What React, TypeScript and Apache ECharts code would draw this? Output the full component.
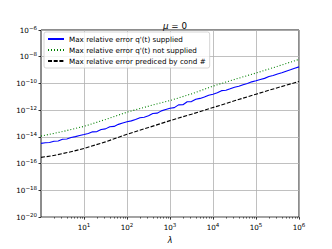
import React, { useEffect, useRef } from "react";
import * as echarts from "echarts";

// lambda sample points
const lambdaFine = [
  1, 1.26, 1.58, 2, 2.51, 3.16, 3.98, 5.01, 6.31, 7.94,
  10, 12.6, 15.8, 20, 25.1, 31.6, 39.8, 50.1, 63.1, 79.4,
  100, 126, 158, 200, 251, 316, 398, 501, 631, 794,
  1000, 1260, 1580, 2000, 2510, 3160, 3980, 5010, 6310, 7940,
  1e4, 1.26e4, 1.58e4, 2e4, 2.51e4, 3.16e4, 3.98e4, 5.01e4, 6.31e4, 7.94e4,
  1e5, 1.26e5, 1.58e5, 2e5, 2.51e5, 3.16e5, 3.98e5, 5.01e5, 6.31e5, 7.94e5,
  1e6,
];
const errSupplied = [
  3.31e-15, 3.63e-15, 3.8e-15, 4.68e-15, 4.9e-15, 6.61e-15, 7.0e-15, 8.91e-15, 1.05e-14, 1.26e-14,
  1.51e-14, 1.82e-14, 2.4e-14, 2.5e-14, 3.6e-14, 4.0e-14, 5.8e-14, 6.1e-14, 8.71e-14, 1.1e-13,
  1.38e-13, 1.58e-13, 2.0e-13, 2.7e-13, 3.0e-13, 3.8e-13, 5.62e-13, 6.0e-13, 8.9e-13, 1.12e-12,
  1.38e-12, 1.55e-12, 2.5e-12, 2.55e-12, 4.3e-12, 4.4e-12, 6.6e-12, 7.6e-12, 9.55e-12, 1.32e-11,
  1.58e-11, 2.0e-11, 2.9e-11, 3.1e-11, 3.98e-11, 5.25e-11, 6.1e-11, 8.1e-11, 1.0e-10, 1.32e-10,
  1.58e-10, 2.0e-10, 2.4e-10, 3.31e-10, 3.9e-10, 5.1e-10, 6.31e-10, 8.32e-10, 1.05e-9, 1.38e-9,
  1.74e-9,
];

const lambdaNotSupplied = [1, 3.16, 10, 31.6, 100, 316, 1000, 3160, 1e4, 3.16e4, 1e5, 3.16e5, 1e6];
const errNotSupplied = [
  1.15e-14, 2.51e-14, 6.17e-14, 2.0e-13, 7.08e-13, 2.0e-12, 5.25e-12, 1.66e-11, 6.31e-11, 2.0e-10,
  6.03e-10, 1.91e-9, 6.31e-9,
];

const lambdaCond = [1, 1.78, 3.16, 5.62, 10, 31.6, 100, 316, 1000, 3160, 1e4, 3.16e4, 1e5, 3.16e5, 1e6];
const errCond = [
  2.95e-16, 3.8e-16, 5.62e-16, 8.51e-16, 1.38e-15, 4.27e-15, 1.58e-14, 5.01e-14, 1.66e-13, 5.01e-13,
  1.58e-12, 5.01e-12, 1.58e-11, 4.79e-11, 1.41e-10,
];

const seriesNames = [
  "Max relative error q'(t) supplied",
  "Max relative error q'(t) not supplied",
  "Max relative error prediced by cond #",
];

const yTickValues = [1e-20, 1e-18, 1e-16, 1e-14, 1e-12, 1e-10, 1e-8, 1e-6];
const xTickValues = [10, 100, 1000, 1e4, 1e5, 1e6];
const xMin = 1;
const xMax = 1e6;

const xMinorTicks: number[] = [];
for (let d = 1; d < xMax; d *= 10) {
  for (let m = 2; m <= 9; m++) xMinorTicks.push(m * d);
}

const supLabel = (v: number) => {
  const e = Math.round(Math.log10(v));
  const s = e < 0 ? "\u2212" + String(-e) : String(e);
  return "{b|10}{s|" + s + "}";
};

const FONT = "DejaVu Sans";
const rich = {
  b: { fontSize: 7.2, fontFamily: FONT, color: "#000", lineHeight: 11 },
  s: { fontSize: 5.5, fontFamily: FONT, color: "#000", lineHeight: 6, verticalAlign: "top" },
};

export default function App() {
  const ref = useRef<HTMLDivElement>(null);
  useEffect(() => {
    if (!ref.current) return;
    const chart = echarts.init(ref.current, undefined, { renderer: "svg" });
    const pair = (xs: number[], ys: number[]) => xs.map((x, i) => [x, ys[i]]);
    chart.setOption({
      animation: false,
      backgroundColor: "#fff",
      textStyle: { fontFamily: FONT },
      title: {
        text: "{i|\u03bc}{n| = 0}",
        left: 170,
        top: 16,
        textAlign: "center",
        textStyle: {
          fontWeight: "normal",
          rich: {
            i: { fontSize: 8.7, fontStyle: "italic", fontWeight: "normal", fontFamily: FONT, color: "#000" },
            n: { fontSize: 8.7, fontWeight: "normal", fontFamily: FONT, color: "#000" },
          },
        },
      },
      legend: {
        orient: "vertical",
        left: 44,
        top: 32,
        padding: [3, 4, 3, 3],
        itemWidth: 16,
        itemHeight: 8,
        itemGap: 3,
        itemStyle: { opacity: 0 },
        backgroundColor: "rgba(255,255,255,0.8)",
        borderColor: "#cccccc",
        borderWidth: 0.8,
        borderRadius: 2,
        textStyle: { fontSize: 7.2, fontFamily: FONT, color: "#000", lineHeight: 8 },
        data: seriesNames,
      },
      grid: {
        left: 41,
        right: 33,
        top: 30,
        bottom: 28,
        show: true,
        borderColor: "#000",
        borderWidth: 0.9,
        backgroundColor: "transparent",
      },
      xAxis: [
        {
          type: "log",
          min: xMin,
          max: xMax,
          name: "\u03bb",
          nameLocation: "middle",
          nameGap: 15,
          nameTextStyle: { fontSize: 8, fontStyle: "italic", fontFamily: FONT, color: "#000" },
          axisLine: { show: false },
          axisTick: {
            show: true,
            length: 2.5,
            customValues: xTickValues,
            lineStyle: { color: "#000", width: 0.8 },
          },
          axisLabel: {
            customValues: xTickValues,
            margin: 5,
            formatter: (v: number) => supLabel(v),
            rich,
          },
          splitLine: { show: true, lineStyle: { color: "#b0b0b0", width: 0.8 } },
        },
        {
          type: "log",
          min: xMin,
          max: xMax,
          position: "bottom",
          axisLine: { show: false },
          axisTick: {
            show: true,
            length: 1.5,
            customValues: xMinorTicks,
            lineStyle: { color: "#000", width: 0.6 },
          },
          axisLabel: { show: false },
          splitLine: { show: false },
        },
      ],
      yAxis: {
        type: "log",
        min: yTickValues[0],
        max: yTickValues[yTickValues.length - 1],
        axisLine: { show: false },
        axisTick: {
          show: true,
          length: 2.5,
          customValues: yTickValues,
          lineStyle: { color: "#000", width: 0.8 },
        },
        axisLabel: {
          customValues: yTickValues,
          margin: 4,
          formatter: (v: number) => supLabel(v),
          rich,
        },
        splitLine: { show: true, lineStyle: { color: "#b0b0b0", width: 0.8 } },
      },
      series: [
        {
          name: seriesNames[0],
          type: "line",
          xAxisIndex: 0,
          data: pair(lambdaFine, errSupplied),
          showSymbol: false,
          symbol: "none",
          lineStyle: { color: "#0000ff", width: 1.1 },
          itemStyle: { color: "#0000ff" },
          z: 4,
        },
        {
          name: seriesNames[1],
          type: "line",
          xAxisIndex: 0,
          data: pair(lambdaNotSupplied, errNotSupplied),
          showSymbol: false,
          symbol: "none",
          lineStyle: { color: "#008000", width: 1.1, type: [1, 2] },
          itemStyle: { color: "#008000" },
          z: 3,
        },
        {
          name: seriesNames[2],
          type: "line",
          xAxisIndex: 0,
          data: pair(lambdaCond, errCond),
          showSymbol: false,
          symbol: "none",
          lineStyle: { color: "#000000", width: 1.1, type: [4, 1.7] },
          itemStyle: { color: "#000000" },
          z: 3,
        },
      ],
    });
    return () => chart.dispose();
  }, []);
  return <div ref={ref} style={{ width: 332, height: 249, position: "absolute", left: 0, top: 0 }} />;
}
